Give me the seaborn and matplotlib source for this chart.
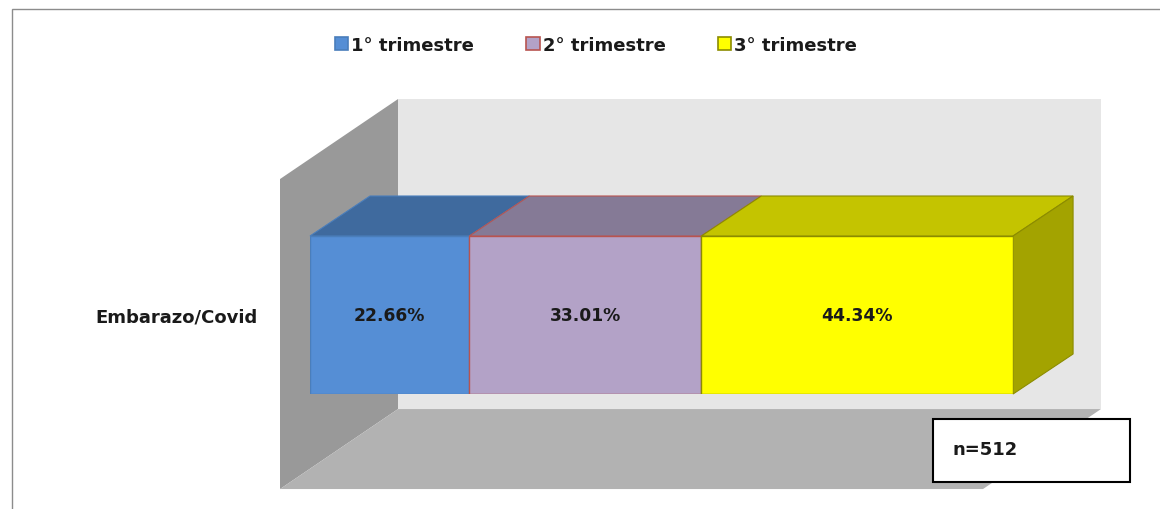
import numpy as np
import pandas as pd
import seaborn as sns
import matplotlib
matplotlib.use("Agg")
import matplotlib.pyplot as plt
from matplotlib.patches import Polygon, Rectangle, Patch
from matplotlib.transforms import Affine2D, IdentityTransform

# ---- data ----
category = ["Embarazo/Covid"]
series_names = ["1° trimestre", "2° trimestre", "3° trimestre"]
values = [22.66, 33.01, 44.34]
value_labels = ["22.66%", "33.01%", "44.34%"]
n_label = "n=512"

front_colors = ["#558ED5", "#B3A2C7", "#FFFF00"]
top_colors = ["#3F6A9E", "#857A96", "#C4C400"]
edge_colors = ["#4A7EBB", "#B85450", "#8C8C00"]
side_color = "#A3A300"

sns.set_theme(style="white")
plt.rcParams["font.family"] = ["DejaVu Sans"]

W, H = 1160, 510
fig = plt.figure(figsize=(W / 100, H / 100), dpi=100)
fig.patch.set_facecolor("white")

# axes = front plane of the bars
ax = fig.add_axes([310 / W, (H - 395) / H, 703 / W, 158 / H])
ax.set_facecolor("none")

lefts = np.concatenate([[0], np.cumsum(values)[:-1]])
for i in range(len(values)):
    sns.barplot(x=[values[i]], y=category, orient="h", left=lefts[i],
                color=front_colors[i], edgecolor=edge_colors[i], linewidth=1.0,
                width=0.8, ax=ax, zorder=5, saturation=1)

ax.set_xlim(0, 100)
ax.set_ylim(0.4, -0.4)
for s in ax.spines.values():
    s.set_visible(False)
ax.set_xticks([])
ax.set_xlabel("")
ax.set_ylabel("")
ax.tick_params(axis="y", length=0, pad=38, labelsize=13)
for t in ax.get_yticklabels():
    t.set_fontweight("bold")
    t.set_color("#1a1a1a")

for i, c in enumerate(ax.containers):
    ax.bar_label(c, labels=[value_labels[i]], label_type="center",
                 fontsize=12.3, fontweight="bold", color="#1a1a1a", zorder=8)

# ---- 3D decoration ----
def disp(pts, dx=0.0, dy=0.0, trans=None):
    trans = trans if trans is not None else ax.transData
    return (trans + Affine2D().translate(dx, dy)).transform(pts)

def poly(front, back, color, ec="none", z=1, lw=0.8):
    verts = np.vstack([front, back[::-1]])
    p = Polygon(verts, closed=True, facecolor=color, edgecolor=ec, lw=lw,
                transform=IdentityTransform(), zorder=z, clip_on=False)
    ax.add_artist(p)

# walls (front plane offset -30,-20 ; back plane +88,+60 in display px)
ta = ax.transAxes
y_lo, y_hi = -0.475, 1.487
fdx, fdy = -30, -20
bdx, bdy = 88, 60
# back wall
bw = disp(np.array([[0, y_lo], [1, y_lo], [1, y_hi], [0, y_hi]]), bdx, bdy, ta)
ax.add_artist(Polygon(bw, closed=True, facecolor="#E6E6E6", edgecolor="none",
                      transform=IdentityTransform(), zorder=0, clip_on=False))
# left wall
lw_pts = np.array([[0, y_lo], [0, y_hi]])
poly(disp(lw_pts, fdx, fdy, ta), disp(lw_pts, bdx, bdy, ta), "#999999", z=1)
# floor
fl_pts = np.array([[0, y_lo], [1, y_lo]])
poly(disp(fl_pts, fdx, fdy, ta), disp(fl_pts, bdx, bdy, ta), "#B2B2B2", z=1)

# bar tops and right side (depth 60, 40)
ddx, ddy = 60, 40
top_y = -0.4
bot_y = 0.4
for i in range(len(values)):
    pts = np.array([[lefts[i], top_y], [lefts[i] + values[i], top_y]])
    poly(disp(pts), disp(pts, ddx, ddy), top_colors[i], ec=edge_colors[i], z=4)
end = lefts[-1] + values[-1]
side = np.array([[end, top_y], [end, bot_y]])
poly(disp(side), disp(side, ddx, ddy), side_color, ec=edge_colors[-1], z=4)

# ---- legend ----
handles = [Patch(facecolor=front_colors[i], edgecolor=edge_colors[i], lw=1.2)
           for i in range(3)]
leg = fig.legend(handles, series_names, loc="center", ncol=3,
                 bbox_to_anchor=(596 / W, 1 - 46 / H), frameon=False,
                 prop={"weight": "bold", "size": 13}, handlelength=0.75,
                 handleheight=0.75, handletextpad=0.15, columnspacing=2.9)
for t in leg.get_texts():
    t.set_color("#1a1a1a")

# ---- n box ----
fig.add_artist(Rectangle((933 / W, 1 - 483 / H), 197 / W, 63 / H,
                         transform=fig.transFigure, facecolor="white",
                         edgecolor="black", lw=1.5, zorder=10))
fig.text(952 / W, 1 - 450 / H, n_label, fontsize=13, fontweight="bold",
         color="#1a1a1a", va="center", ha="left", zorder=11)

# outer chart frame (top and left edges visible)
fig.add_artist(Rectangle((12 / W, -0.05), 1.2, 1 - 10 / H + 0.05,
                         transform=fig.transFigure, fill=False,
                         edgecolor="#8C8C8C", lw=1.0, zorder=0))

fig.savefig("out.png", dpi=100)
